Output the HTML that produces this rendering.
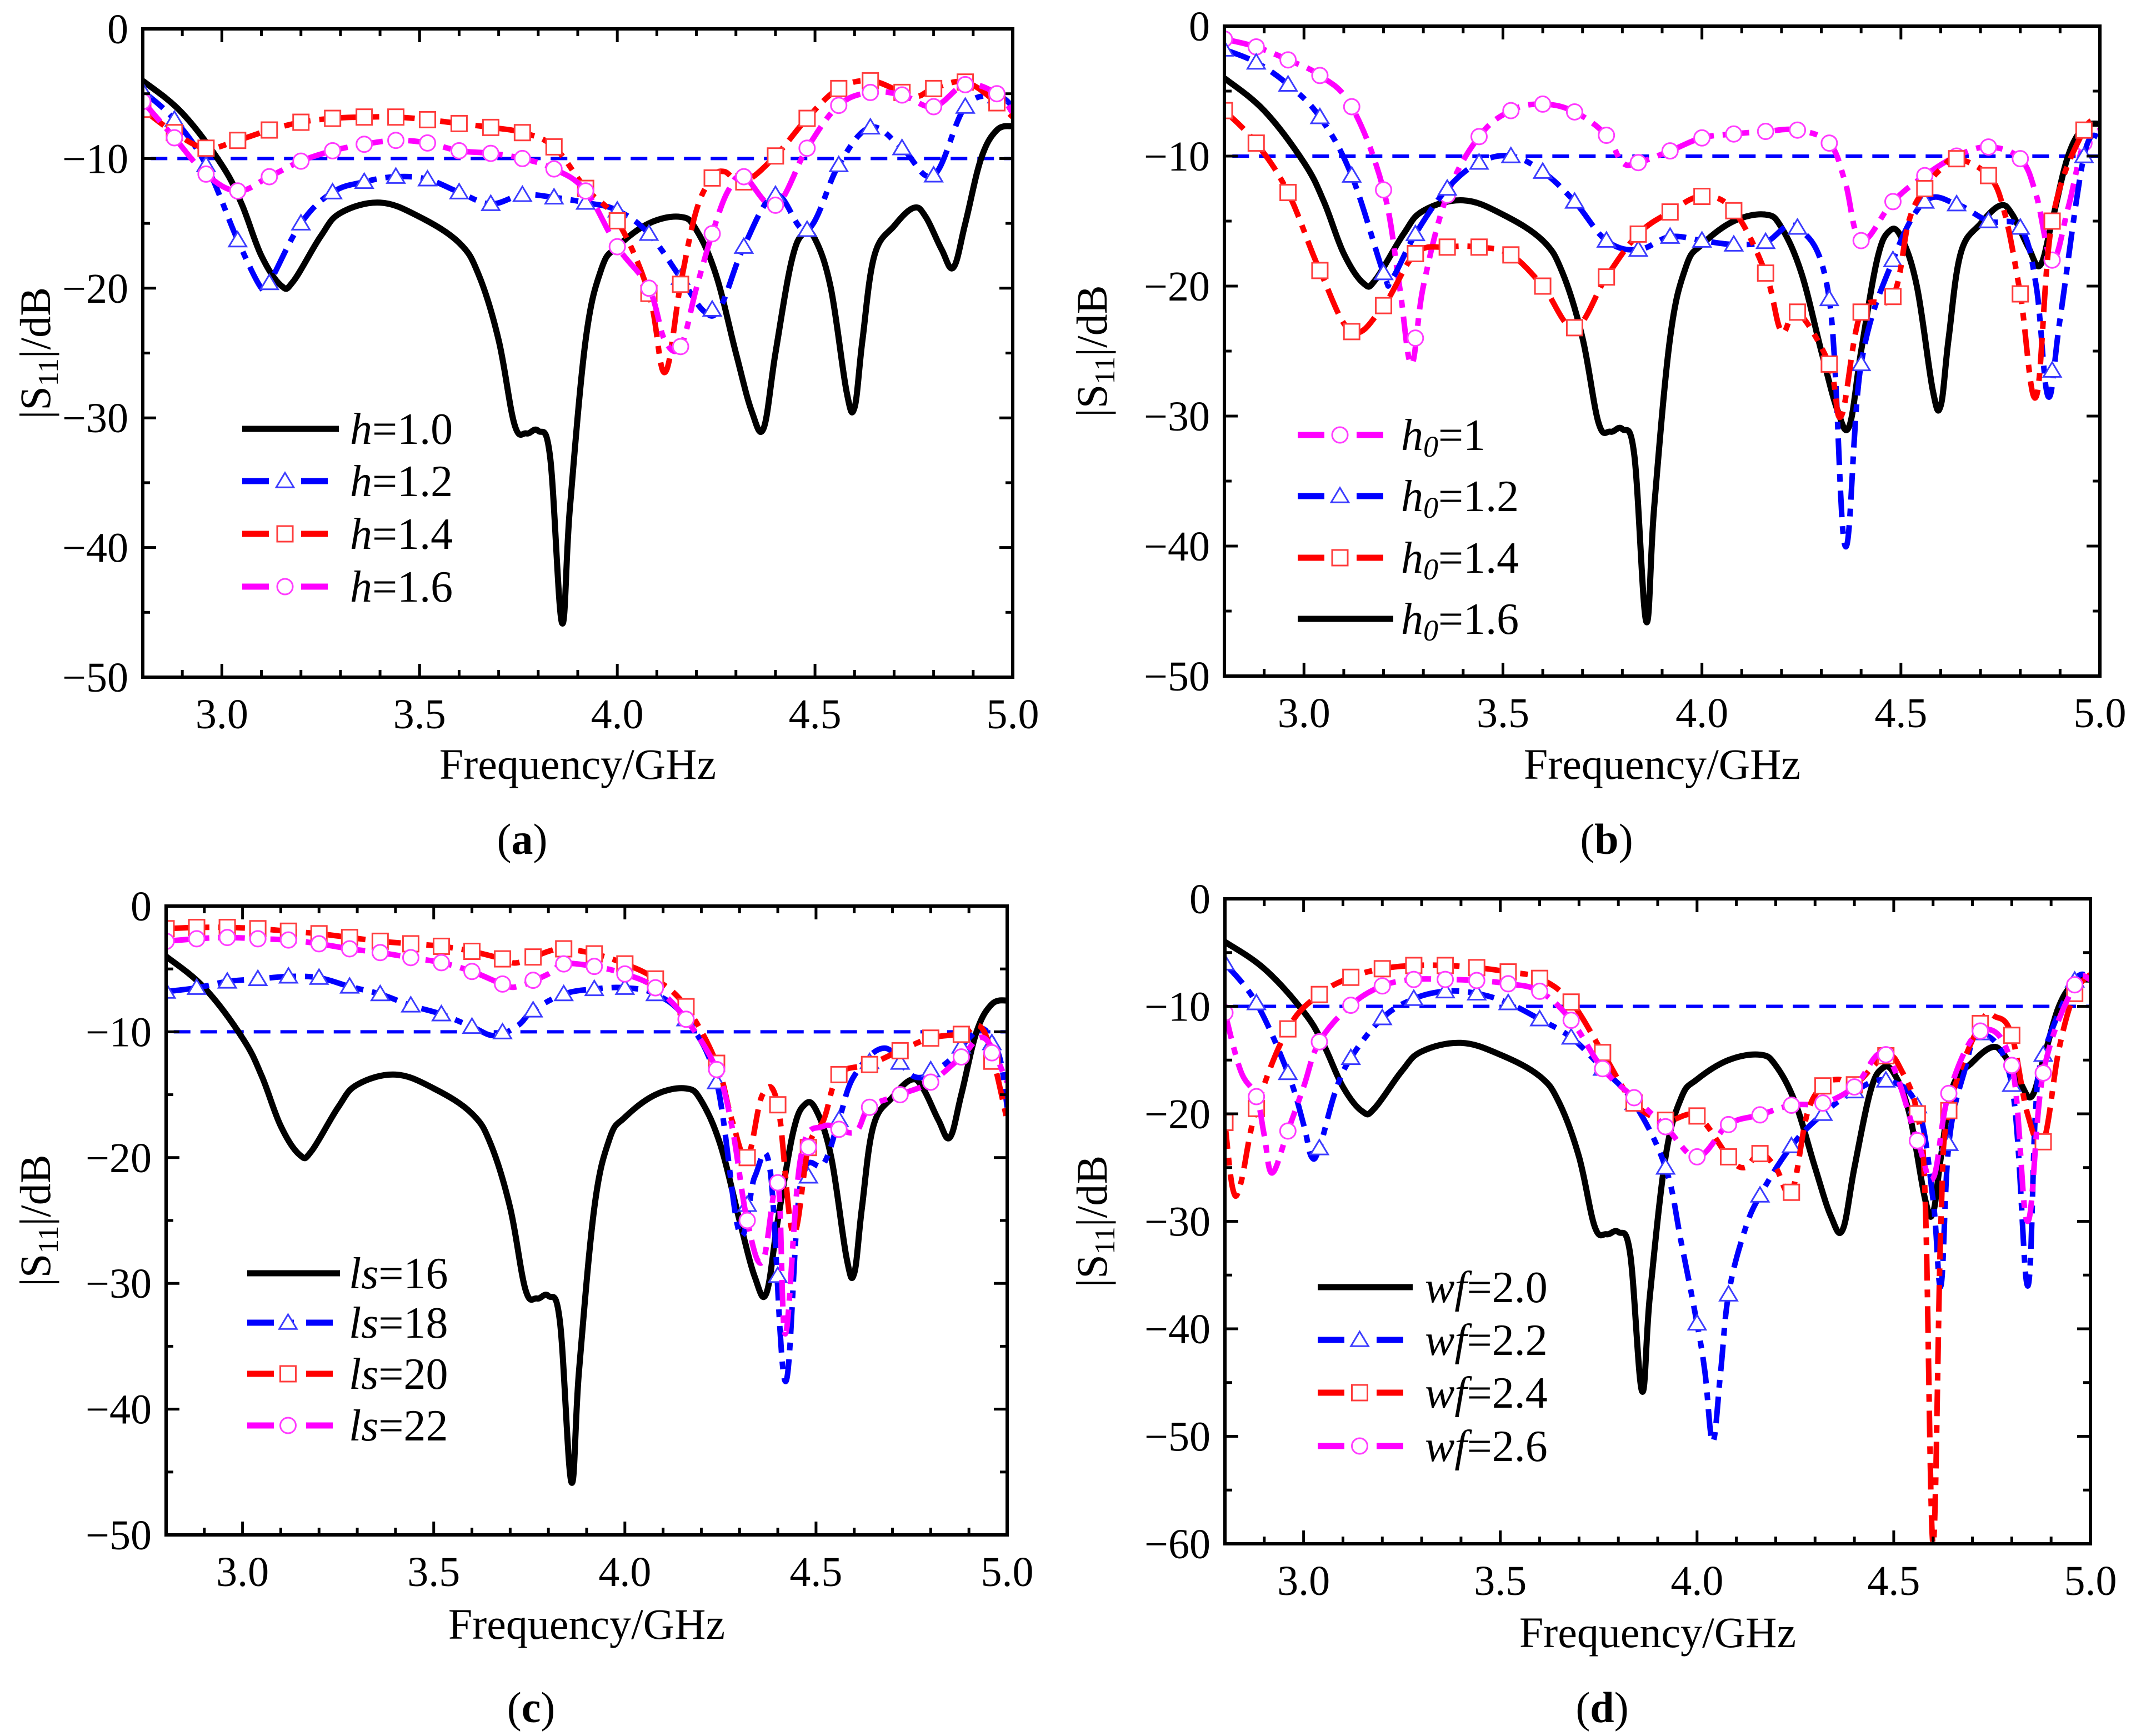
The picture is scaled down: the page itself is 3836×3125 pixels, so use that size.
<!DOCTYPE html>
<html><head><meta charset="utf-8"><style>
html,body{margin:0;padding:0;background:#fff}
svg{display:block}
text{font-family:"Liberation Serif",serif;fill:#000}
</style></head><body>
<svg id="chart" width="3836" height="3125" viewBox="0 0 3836 3125" xmlns="http://www.w3.org/2000/svg"></svg>
<script>
// ---------- data ----------
const refF=[2.8,2.9,3.0,3.05,3.1,3.15,3.18,3.25,3.3,3.4,3.5,3.6,3.65,3.7,3.74,3.77,3.8,3.83,3.86,3.88,3.92,3.96,4.0,4.08,4.16,4.2,4.25,4.3,4.34,4.37,4.4,4.44,4.47,4.5,4.54,4.58,4.6,4.62,4.65,4.7,4.75,4.78,4.82,4.85,4.88,4.92,4.96,5.0];
const refV=[-4,-6.5,-10.5,-13.5,-17.5,-19.8,-19.5,-16,-14.2,-13.4,-14.5,-16.5,-19,-24,-30.5,-31.2,-31,-33,-45.8,-37,-24,-18.5,-16.8,-15,-14.5,-15.5,-19,-25,-29.5,-30.8,-25,-18,-15.8,-16.2,-20,-28,-29.2,-24,-17.5,-15.2,-13.8,-14.5,-17,-18.4,-15,-10,-7.8,-7.5];
// panel a
const aH12F=[2.8,2.88,2.96,3.04,3.1,3.12,3.2,3.28,3.36,3.44,3.52,3.6,3.68,3.76,3.84,3.92,4.0,4.08,4.16,4.22,4.26,4.32,4.4,4.48,4.56,4.64,4.72,4.8,4.88,4.96,5.0];
const aH12V=[-4.8,-7,-10.5,-16.3,-20,-19.6,-15,-12.6,-11.8,-11.4,-11.6,-12.6,-13.5,-12.8,-13,-13.4,-14,-15.8,-19.2,-21.8,-21.5,-16.8,-12.8,-15.5,-10.5,-7.6,-9.2,-11.3,-6,-5.2,-6];
const aH14F=[2.8,2.88,2.96,3.04,3.12,3.2,3.28,3.36,3.44,3.52,3.6,3.68,3.76,3.84,3.92,4.0,4.08,4.12,4.16,4.2,4.24,4.27,4.32,4.4,4.48,4.56,4.64,4.72,4.76,4.8,4.88,4.96,5.0];
const aH14V=[-6.2,-8,-9.2,-8.6,-7.8,-7.2,-6.9,-6.8,-6.8,-7,-7.3,-7.6,-8,-9.1,-12.3,-14.8,-20.4,-26.5,-19.7,-14,-11.5,-11,-11.8,-9.8,-6.9,-4.6,-4,-4.9,-5.2,-4.6,-4.1,-5.7,-6.8];
const aH16F=[2.8,2.88,2.96,3.04,3.12,3.2,3.28,3.36,3.44,3.52,3.6,3.68,3.76,3.84,3.92,4.0,4.08,4.12,4.16,4.2,4.24,4.28,4.32,4.4,4.48,4.56,4.64,4.72,4.8,4.88,4.96,5.0];
const aH16V=[-5.6,-8.4,-11.2,-12.5,-11.4,-10.2,-9.4,-8.9,-8.6,-8.8,-9.4,-9.6,-10,-10.8,-12.5,-16.8,-20,-24,-24.5,-20,-15.8,-12.5,-11.4,-13.6,-9.2,-5.9,-4.9,-5.1,-6,-4.3,-5,-6.5];
// panel b
const bH1F=[2.8,2.88,2.96,3.04,3.12,3.2,3.24,3.27,3.3,3.36,3.44,3.52,3.6,3.68,3.76,3.8,3.84,3.92,4.0,4.08,4.16,4.24,4.32,4.36,4.4,4.48,4.56,4.64,4.72,4.8,4.84,4.88,4.92,4.96,5.0];
const bH1V=[-1,-1.6,-2.6,-3.8,-6.2,-12.6,-20,-26,-20,-13,-8.5,-6.5,-6,-6.6,-8.4,-10.5,-10.5,-9.6,-8.6,-8.3,-8.1,-8,-9,-12,-16.5,-13.5,-11.5,-10,-9.3,-10.2,-13,-18,-14,-9,-8];
const bH12F=[2.8,2.88,2.96,3.04,3.12,3.2,3.22,3.28,3.36,3.44,3.52,3.6,3.68,3.76,3.84,3.92,4.0,4.08,4.16,4.24,4.32,4.36,4.4,4.48,4.56,4.64,4.72,4.8,4.84,4.87,4.9,4.96,5.0];
const bH12V=[-1.8,-2.8,-4.5,-7,-11.5,-19,-19.5,-16,-12.5,-10.5,-10,-11.2,-13.5,-16.5,-17.2,-16.2,-16.5,-16.8,-16.6,-15.5,-21,-40,-26,-18,-13.5,-13.7,-15,-15.5,-20,-28.5,-22.5,-10,-8.5];
const bH14F=[2.8,2.88,2.96,3.04,3.12,3.2,3.28,3.36,3.44,3.52,3.6,3.68,3.76,3.84,3.92,4.0,4.08,4.16,4.2,4.24,4.32,4.35,4.4,4.48,4.52,4.56,4.6,4.64,4.72,4.76,4.8,4.84,4.88,4.96,5.0];
const bH14V=[-6.5,-9,-12.8,-18.8,-23.5,-21.5,-17.5,-17,-17,-17.6,-20,-23.2,-19.3,-16,-14.3,-13.1,-14.2,-19,-23.5,-22,-26,-30,-22,-20.8,-15,-12.5,-11,-10.2,-11.5,-14.3,-20.6,-28.5,-15,-8,-7.5];
// panel c
const cL18F=[2.8,2.88,2.96,3.04,3.12,3.2,3.28,3.36,3.44,3.52,3.6,3.66,3.72,3.76,3.84,3.92,4.0,4.08,4.16,4.24,4.3,4.34,4.38,4.42,4.46,4.52,4.56,4.6,4.68,4.76,4.84,4.9,4.94,4.98,5.0];
const cL18V=[-6.8,-6.5,-6,-5.8,-5.6,-5.7,-6.4,-7,-7.9,-8.6,-9.6,-10.3,-9.5,-8.3,-7,-6.6,-6.5,-7,-9,-14,-26,-21.5,-21,-37.8,-22,-20.5,-17,-13.5,-11.3,-13.6,-12.5,-10.5,-9.8,-12,-16];
const cL20F=[2.8,2.88,2.96,3.04,3.12,3.2,3.28,3.36,3.44,3.52,3.6,3.68,3.72,3.8,3.84,3.92,4.0,4.08,4.16,4.24,4.28,4.32,4.36,4.4,4.44,4.48,4.52,4.56,4.64,4.72,4.8,4.88,4.94,5.0];
const cL20V=[-1.8,-1.7,-1.7,-1.8,-2,-2.2,-2.5,-2.8,-3,-3.2,-3.6,-4.2,-4.5,-3.6,-3.4,-3.8,-4.6,-5.8,-8,-12.5,-17,-20,-15,-15.8,-26,-19.2,-17,-13.4,-12.6,-11.5,-10.5,-10.2,-10,-17];
const cL22F=[2.8,2.88,2.96,3.04,3.12,3.2,3.28,3.36,3.44,3.52,3.6,3.68,3.72,3.8,3.84,3.92,4.0,4.08,4.16,4.24,4.28,4.32,4.36,4.4,4.42,4.46,4.52,4.6,4.64,4.72,4.8,4.88,4.94,5.0];
const cL22V=[-2.8,-2.6,-2.5,-2.6,-2.7,-3,-3.4,-3.7,-4.1,-4.5,-5.2,-6.2,-6.4,-5.4,-4.6,-4.8,-5.4,-6.5,-9,-13,-17.5,-25,-28.3,-22,-34,-20,-17.5,-18,-16,-15,-14,-12,-10.5,-14];
// panel d
const dW22F=[2.8,2.88,2.96,3.0,3.02,3.04,3.08,3.12,3.2,3.28,3.36,3.44,3.52,3.6,3.68,3.76,3.84,3.92,3.96,4.0,4.02,4.04,4.06,4.08,4.12,4.16,4.24,4.32,4.4,4.48,4.56,4.6,4.62,4.64,4.68,4.72,4.8,4.84,4.86,4.88,4.96,5.0];
const dW22V=[-6,-9.7,-16.2,-21,-24,-23.2,-18,-14.8,-11.1,-9.3,-8.6,-8.8,-9.7,-11.2,-12.9,-15.8,-19,-25,-32,-39.5,-44,-50.5,-44,-36.8,-31,-27.6,-23,-20,-17.9,-16.9,-19.3,-28,-36,-22.8,-16,-12.5,-17.3,-36,-20,-14.5,-7.6,-7.5];
const dW24F=[2.8,2.82,2.84,2.88,2.96,3.04,3.12,3.2,3.28,3.36,3.44,3.52,3.6,3.68,3.76,3.84,3.92,4.0,4.08,4.12,4.16,4.2,4.24,4.28,4.32,4.36,4.4,4.48,4.52,4.56,4.58,4.6,4.62,4.64,4.72,4.76,4.8,4.84,4.88,4.92,4.96,5.0];
const dW24V=[-20.8,-27,-26.5,-19.5,-12.1,-8.9,-7.3,-6.5,-6.2,-6.2,-6.4,-6.8,-7.4,-9.6,-14.3,-19,-20.6,-20.2,-24,-25,-23.7,-25,-27.3,-20,-17.4,-16.8,-17.3,-14.6,-16,-20,-28,-60,-30,-19.7,-11.6,-11,-12.7,-20,-22.6,-14,-8.8,-7];
const dW26F=[2.8,2.84,2.88,2.9,2.92,2.96,3.0,3.04,3.12,3.2,3.28,3.36,3.44,3.52,3.6,3.68,3.76,3.84,3.92,4.0,4.08,4.16,4.24,4.32,4.4,4.48,4.56,4.6,4.64,4.72,4.8,4.84,4.88,4.96,5.0];
const dW26V=[-10.6,-16,-18.4,-22,-25.5,-21.6,-17.5,-13.3,-9.9,-8.1,-7.5,-7.5,-7.6,-7.9,-8.6,-11.3,-15.8,-18.5,-21.2,-24,-21,-20.1,-19.2,-19,-17.5,-14.5,-22.5,-26,-18.1,-12.3,-15.5,-30,-16.2,-8,-7.5];
// ticks
const xTicks=[3.0,3.5,4.0,4.5,5.0];
const xTickLabels=["3.0","3.5","4.0","4.5","5.0"];
const yTicks50=[0,-10,-20,-30,-40,-50];
const yTicks60=[0,-10,-20,-30,-40,-50,-60];
const refLevel=-10;

// ---------- drawing ----------
const NS="http://www.w3.org/2000/svg";
const svg=document.getElementById('chart');
function mk(tag,attrs,parent){const e=document.createElementNS(NS,tag);for(const k in attrs)e.setAttribute(k,attrs[k]);(parent||svg).appendChild(e);return e;}
const COL={blue:"#0000ff",red:"#ff0000",mag:"#ff00ff",black:"#000"};
const MCOL={blue:"#3c3cff",red:"#ff3c3c",mag:"#ff3cff"};
const DASH="48 16 14 16";

function smoothPath(pts){
  let d="M"+pts[0][0].toFixed(1)+","+pts[0][1].toFixed(1);
  for(let i=0;i<pts.length-1;i++){
    const p0=pts[Math.max(0,i-1)],p1=pts[i],p2=pts[i+1],p3=pts[Math.min(pts.length-1,i+2)];
    const t=0.18;
    const c1=[p1[0]+(p2[0]-p0[0])*t,p1[1]+(p2[1]-p0[1])*t];
    const c2=[p2[0]-(p3[0]-p1[0])*t,p2[1]-(p3[1]-p1[1])*t];
    d+=" C"+c1[0].toFixed(1)+","+c1[1].toFixed(1)+" "+c2[0].toFixed(1)+","+c2[1].toFixed(1)+" "+p2[0].toFixed(1)+","+p2[1].toFixed(1);
  }
  return d;
}
function interp(F,V,f){for(let i=0;i<F.length-1;i++){if(f>=F[i]-1e-9&&f<=F[i+1]+1e-9){const t=(f-F[i])/(F[i+1]-F[i]);return V[i]+t*(V[i+1]-V[i]);}}return V[V.length-1];}

function marker(g,type,cx,cy,color){
  let m;
  if(type==="tri"){const s=15;m=mk('polygon',{points:`${cx},${cy-s} ${cx-s*1.05},${cy+s*0.75} ${cx+s*1.05},${cy+s*0.75}`,fill:"#fff",stroke:color,'stroke-width':3},g);}
  else if(type==="sq"){const s=14;m=mk('rect',{x:cx-s,y:cy-s,width:2*s,height:2*s,fill:"#fff",stroke:color,'stroke-width':3},g);}
  else {m=mk('circle',{cx:cx,cy:cy,r:14,fill:"#fff",stroke:color,'stroke-width':3},g);}
  return m;
}

function panel(P){
  const sx=f=>P.x0+(f-2.8)/(5.0-2.8)*(P.x1-P.x0);
  const sy=v=>P.y0+(0-v)/(0-P.ymin)*(P.y1-P.y0);
  const g=mk('g',{});
  
  
  const cid="clip-"+P.id;
  const cp=mk('clipPath',{id:cid},g);mk('rect',{x:P.x0,y:P.y0,width:P.x1-P.x0,height:P.y1-P.y0},cp);
  const plot=mk('g',{'clip-path':`url(#${cid})`},g);
  
  
  const rl=mk('line',{x1:sx(2.82),x2:sx(5.0),y1:sy(refLevel),y2:sy(refLevel),stroke:COL.blue,'stroke-width':6,'stroke-dasharray':"30 18"},plot);
  
  
  P.series.forEach(s=>{
    const sg=mk('g',{},plot);
    
    
    const pts=s.F.map((f,i)=>[sx(f),sy(s.V[i])]);
    const p=mk('path',{d:smoothPath(pts),fill:"none",stroke:COL[s.col],'stroke-width':s.m?10:11,'stroke-linejoin':'round'},sg);
    if(s.m)p.setAttribute('stroke-dasharray',DASH);
    
    
    if(s.m){for(let k=0;k<=27;k++){const f=2.8+k*0.08;if(f>5.0001)break;const mm=marker(sg,s.m,sx(f),sy(interp(s.F,s.V,f)),MCOL[s.col]);
      
      }}
  });
  const fr=mk('rect',{x:P.x0,y:P.y0,width:P.x1-P.x0,height:P.y1-P.y0,fill:"none",stroke:"#000",'stroke-width':6},g);
  
  
  for(let k=0;k<=22;k++){const f=2.8+k*0.1;const X=sx(f);const major=Math.abs(((f*10)%5))<1e-6||Math.abs(((f*10)%5)-5)<1e-6;const L=major?24:13;
    mk('line',{x1:X,x2:X,y1:P.y1,y2:P.y1-L,stroke:"#000",'stroke-width':5},g);
    mk('line',{x1:X,x2:X,y1:P.y0,y2:P.y0+L,stroke:"#000",'stroke-width':5},g);}
  xTicks.forEach((f,i)=>{const t=mk('text',{x:sx(f),y:P.y1+92,'font-size':76,'text-anchor':'middle'},g);t.textContent=xTickLabels[i];
    
    });
  const yt=P.ymin===-60?yTicks60:yTicks50;
  for(let v=0;v>=P.ymin;v-=5){const Y=sy(v);const L=(v%10===0)?24:13;
    mk('line',{x1:P.x0,x2:P.x0+L,y1:Y,y2:Y,stroke:"#000",'stroke-width':5},g);
    mk('line',{x1:P.x1,x2:P.x1-L,y1:Y,y2:Y,stroke:"#000",'stroke-width':5},g);}
  yt.forEach(v=>{const t=mk('text',{x:P.x0-26,y:sy(v)+26,'font-size':76,'text-anchor':'end'},g);t.textContent=v===0?"0":"\u2212"+Math.abs(v);
    
    });
  const xt=mk('text',{x:(P.x0+P.x1)/2,y:P.xty,'font-size':78,'text-anchor':'middle'},g);xt.textContent="Frequency/GHz";
  
  
  const ytt=mk('text',{x:0,y:0,'font-size':78,'text-anchor':'middle',transform:`translate(${P.ytx},${(P.y0+P.y1)/2}) rotate(-90)`},g);
  ytt.innerHTML='|S<tspan font-size="52" dy="14">11</tspan><tspan dy="-14">|/dB</tspan>';
  
  
  const pl=mk('text',{x:(P.x0+P.x1)/2-100,y:P.ply,'font-size':78,'text-anchor':'middle'},g);
  pl.innerHTML='(<tspan font-weight="bold">'+P.id+'</tspan>)';
  
  
  const lg=mk('g',{},g);
  
  
  P.legend.forEach((e,i)=>{const Y=P.leg.ys[i];const eg=mk('g',{},lg);
    
    
    const ln=mk('line',{x1:P.leg.x0,x2:P.leg.x1,y1:Y,y2:Y,stroke:COL[e.col],'stroke-width':11},eg);
    if(e.m){ln.setAttribute('stroke-dasharray',"48 22 14 22");marker(eg,e.m,(P.leg.x0+P.leg.x1)/2-10,Y,MCOL[e.col]);}
    const t=mk('text',{x:P.leg.tx,y:Y+27,'font-size':80},eg);
    t.innerHTML='<tspan font-style="italic">'+e.v+'</tspan>'+(e.sub?'<tspan font-style="italic" font-size="54" dy="12">0</tspan><tspan dy="-12">=</tspan>':'=')+e.n;
  });
}

panel({id:"a",name:"panel-a-h",x0:257,x1:1823,y0:52,y1:1219,ymin:-50,xty:1402,ytx:90,ply:1537,
  series:[{key:"h-1.0",F:refF,V:refV,col:"black"},{key:"h-1.2",F:aH12F,V:aH12V,col:"blue",m:"tri"},{key:"h-1.4",F:aH14F,V:aH14V,col:"red",m:"sq"},{key:"h-1.6",F:aH16F,V:aH16V,col:"mag",m:"circ"}],
  legend:[{v:"h",n:"1.0",col:"black"},{v:"h",n:"1.2",col:"blue",m:"tri"},{v:"h",n:"1.4",col:"red",m:"sq"},{v:"h",n:"1.6",col:"mag",m:"circ"}],
  leg:{x0:436,x1:610,tx:630,ys:[772,866,961,1056]}});
panel({id:"b",name:"panel-b-h0",x0:2204,x1:3780,y0:47,y1:1217,ymin:-50,xty:1402,ytx:1992,ply:1537,
  series:[{key:"h0-1.6",F:refF,V:refV,col:"black"},{key:"h0-1",F:bH1F,V:bH1V,col:"mag",m:"circ"},{key:"h0-1.2",F:bH12F,V:bH12V,col:"blue",m:"tri"},{key:"h0-1.4",F:bH14F,V:bH14V,col:"red",m:"sq"}],
  legend:[{v:"h",sub:1,n:"1",col:"mag",m:"circ"},{v:"h",sub:1,n:"1.2",col:"blue",m:"tri"},{v:"h",sub:1,n:"1.4",col:"red",m:"sq"},{v:"h",sub:1,n:"1.6",col:"black"}],
  leg:{x0:2336,x1:2508,tx:2522,ys:[783,893,1004,1114]}});
panel({id:"c",name:"panel-c-ls",x0:299,x1:1813,y0:1631,y1:2763,ymin:-50,xty:2950,ytx:90,ply:3100,
  series:[{key:"ls-16",F:refF,V:refV,col:"black"},{key:"ls-18",F:cL18F,V:cL18V,col:"blue",m:"tri"},{key:"ls-20",F:cL20F,V:cL20V,col:"red",m:"sq"},{key:"ls-22",F:cL22F,V:cL22V,col:"mag",m:"circ"}],
  legend:[{v:"ls",n:"16",col:"black"},{v:"ls",n:"18",col:"blue",m:"tri"},{v:"ls",n:"20",col:"red",m:"sq"},{v:"ls",n:"22",col:"mag",m:"circ"}],
  leg:{x0:445,x1:612,tx:628,ys:[2292,2381,2473,2566]}});
panel({id:"d",name:"panel-d-wf",x0:2205,x1:3763,y0:1618,y1:2779,ymin:-60,xty:2965,ytx:1992,ply:3100,
  series:[{key:"wf-2.0",F:refF,V:refV,col:"black"},{key:"wf-2.2",F:dW22F,V:dW22V,col:"blue",m:"tri"},{key:"wf-2.4",F:dW24F,V:dW24V,col:"red",m:"sq"},{key:"wf-2.6",F:dW26F,V:dW26V,col:"mag",m:"circ"}],
  legend:[{v:"wf",n:"2.0",col:"black"},{v:"wf",n:"2.2",col:"blue",m:"tri"},{v:"wf",n:"2.4",col:"red",m:"sq"},{v:"wf",n:"2.6",col:"mag",m:"circ"}],
  leg:{x0:2372,x1:2543,tx:2565,ys:[2317,2412,2507,2603]}});
</script>
</body></html>
